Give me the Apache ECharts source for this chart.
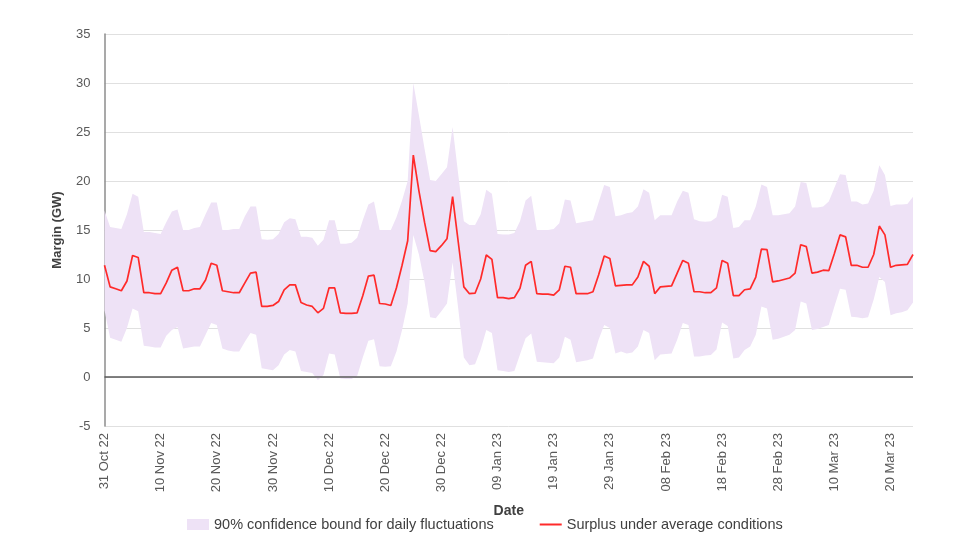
<!DOCTYPE html>
<html>
<head>
<meta charset="utf-8">
<script src="https://cdn.jsdelivr.net/npm/echarts@6/dist/echarts.min.js"></script>
<style>
  html, body { margin: 0; padding: 0; background: #fff; }
  #chart { width: 958px; height: 552px; }
</style>
</head>
<body>
<div id="chart"></div>
<script>
// daily values, 31 Oct 22 .. 24 Mar 23
const startDate = Date.UTC(2022, 9, 31);
const monthNames = ['Jan','Feb','Mar','Apr','May','Jun','Jul','Aug','Sep','Oct','Nov','Dec'];

const surplus = [
  11.4, 9.2, 9.0, 8.8, 9.8, 12.4, 12.2, 8.6, 8.6, 8.5,
  8.5, 9.6, 10.9, 11.2, 8.8, 8.8, 9.0, 9.0, 9.9, 11.6,
  11.4, 8.8, 8.7, 8.6, 8.6, 9.6, 10.6, 10.7, 7.2, 7.2,
  7.3, 7.7, 8.9, 9.4, 9.4, 7.6, 7.35, 7.2, 6.55, 7.0,
  9.1, 9.1, 6.55, 6.5, 6.5, 6.55, 8.3, 10.3, 10.4, 7.5,
  7.45, 7.3, 9.1, 11.4, 13.9, 22.65, 19.0, 15.8, 12.9, 12.8,
  13.4, 14.1, 18.4, 13.8, 9.2, 8.5, 8.55, 10.0, 12.45, 12.0,
  8.1, 8.1, 8.0, 8.1, 9.05, 11.4, 11.8, 8.5, 8.45, 8.45,
  8.35, 8.9, 11.3, 11.2, 8.5, 8.5, 8.5, 8.7, 10.4, 12.35,
  12.1, 9.3, 9.35, 9.4, 9.4, 10.2, 11.8, 11.3, 8.5, 9.2,
  9.25, 9.3, 10.6, 11.9, 11.6, 8.7, 8.7, 8.6, 8.6, 9.1,
  11.9, 11.6, 8.3, 8.3, 8.9, 9.0, 10.2, 13.05, 13.0, 9.7,
  9.8, 9.95, 10.1, 10.6, 13.5, 13.3, 10.6, 10.7, 10.9, 10.85,
  12.6, 14.5, 14.3, 11.4, 11.4, 11.2, 11.2, 12.5, 15.4, 14.5,
  11.2, 11.4, 11.45, 11.5, 12.5
];

const upperBound = [
  17.0, 15.3, 15.2, 15.1, 16.6, 18.7, 18.4, 14.8, 14.8, 14.7,
  14.6, 15.8, 16.9, 17.1, 15.0, 15.0, 15.2, 15.3, 16.6, 17.8,
  17.8, 15.0, 15.0, 15.1, 15.1, 16.4, 17.4, 17.4, 14.05, 14.0,
  14.05, 14.6, 15.8, 16.2, 16.1, 14.3, 14.3, 14.2, 13.4, 14.0,
  16.0, 16.0, 13.6, 13.6, 13.7, 14.2, 16.0, 17.6, 17.9, 15.0,
  15.0, 15.0, 16.3, 18.0, 20.0, 30.0, 26.7, 23.3, 20.1, 20.0,
  20.7, 21.4, 25.5, 20.7, 15.9, 15.5, 15.5, 16.6, 19.1, 18.7,
  14.6, 14.55, 14.55, 14.7, 15.9, 18.0, 18.5, 15.0, 15.0, 15.0,
  15.1, 15.7, 18.1, 18.0, 15.7, 15.8, 15.9, 16.0, 17.8, 19.6,
  19.4, 16.4, 16.5, 16.7, 16.8, 17.4, 19.15, 18.8, 16.0, 16.5,
  16.5, 16.5, 17.9, 19.0, 18.8, 16.1, 15.9, 15.85, 15.9, 16.3,
  18.6, 18.4, 15.2, 15.3, 16.0, 16.0, 17.4, 19.65, 19.4, 16.5,
  16.5, 16.6, 16.7, 17.4, 19.9, 19.8, 17.3, 17.3, 17.4, 17.9,
  19.3, 20.7, 20.6, 17.9, 17.9, 17.6, 17.7, 19.0, 21.6, 20.6,
  17.45, 17.6, 17.6, 17.65, 18.4
];

const lowerBound = [
  6.8, 4.0, 3.8, 3.6, 5.0, 7.0, 6.7, 3.2, 3.1, 3.0,
  3.0, 4.2, 4.8, 5.1, 2.9, 3.0, 3.1, 3.1, 4.3, 5.5,
  5.3, 2.9, 2.7, 2.6, 2.6, 3.6, 4.5, 4.3, 0.9, 0.8,
  0.7, 1.2, 2.3, 2.75, 2.6, 0.6, 0.5, 0.4, -0.3, 0.2,
  2.4, 2.3, -0.15, -0.2, -0.2, 0.1, 2.0, 3.7, 3.85, 1.1,
  1.05, 1.1, 2.6, 4.8, 7.5, 14.5, 12.5, 9.7, 6.1, 6.0,
  6.7, 7.5, 11.7, 7.0, 2.0, 1.2, 1.3, 2.8, 4.8, 4.5,
  0.7, 0.6, 0.5, 0.6, 2.3, 3.95, 4.45, 1.55, 1.5, 1.45,
  1.4, 2.0, 4.1, 3.8, 1.5, 1.6, 1.7, 1.9, 3.8, 5.3,
  5.0, 2.4, 2.6, 2.4, 2.5, 3.1, 4.8, 4.5, 1.7, 2.3,
  2.35, 2.4, 3.8, 5.5, 5.3, 2.1, 2.1, 2.2, 2.25, 2.8,
  5.55, 5.2, 1.9, 2.0, 2.75, 3.1, 4.3, 7.2, 7.0, 3.8,
  3.9, 4.1, 4.3, 4.8, 7.7, 7.5, 4.8, 4.9, 5.1, 5.3,
  7.2, 9.0, 8.9, 6.15, 6.1, 6.0, 6.1, 7.9, 10.2, 9.7,
  6.3, 6.5, 6.6, 6.8, 7.6
];

const bandName = '90% confidence bound for daily fluctuations';
const lineName = 'Surplus under average conditions';

// category labels like "31 Oct 22"
const dates = surplus.map((v, i) => {
  const d = new Date(startDate + i * 86400000);
  const dd = String(d.getUTCDate()).padStart(2, '0');
  return dd + ' ' + monthNames[d.getUTCMonth()] + ' ' + String(d.getUTCFullYear()).slice(2);
});

const bandWidth = upperBound.map((u, i) => +(u - lowerBound[i]).toFixed(2));

const bandColor = '#EEE2F6';
const redColor = '#ff2a2a';
const font = 'Liberation Sans, Arial, sans-serif';

const chart = echarts.init(document.getElementById('chart'));
chart.setOption({
  animation: false,
  grid: { left: 104.5, right: 45, top: 34, bottom: 126 },
  legend: {
    bottom: 15,
    left: 182,
    itemGap: 46,
    itemWidth: 22,
    itemHeight: 11,
    textStyle: { fontFamily: font, fontSize: 14.5, color: '#404040' },
    data: [
      { name: bandName, icon: 'rect', itemStyle: { color: bandColor } },
      { name: lineName, icon: 'path://M0,0H22V2H0Z', itemStyle: { color: redColor } }
    ]
  },
  xAxis: {
    type: 'category',
    data: dates,
    boundaryGap: false,
    name: 'Date',
    nameLocation: 'middle',
    nameGap: 78,
    nameTextStyle: { fontFamily: font, fontSize: 14, fontWeight: 'bold', color: '#404040' },
    axisLine: { show: false, onZero: false },
    axisTick: { show: false },
    axisLabel: {
      interval: 9,
      rotate: 90,
      margin: 7,
      fontFamily: font,
      fontSize: 13,
      color: '#595959'
    },
    splitLine: { show: false }
  },
  yAxis: {
    type: 'value',
    min: -5,
    max: 35,
    interval: 5,
    name: 'Margin (GW)',
    nameLocation: 'middle',
    nameGap: 41,
    nameTextStyle: { fontFamily: font, fontSize: 13, fontWeight: 'bold', color: '#404040' },
    axisLine: { show: true, lineStyle: { color: '#8c8c8c', width: 1.5 } },
    axisTick: { show: false },
    axisLabel: { fontFamily: font, fontSize: 13, color: '#595959', margin: 14 },
    splitLine: { lineStyle: { color: '#e0e0e0', width: 1 } }
  },
  series: [
    {
      name: 'lower',
      type: 'line',
      data: lowerBound,
      stack: 'band',
      stackStrategy: 'all',
      symbol: 'none',
      lineStyle: { opacity: 0 },
      silent: true,
      z: 1
    },
    {
      name: bandName,
      type: 'line',
      data: bandWidth,
      stack: 'band',
      stackStrategy: 'all',
      symbol: 'none',
      lineStyle: { opacity: 0 },
      itemStyle: { color: bandColor },
      areaStyle: { color: bandColor, opacity: 1 },
      silent: true,
      z: 1
    },
    {
      name: lineName,
      type: 'line',
      data: surplus,
      symbol: 'none',
      itemStyle: { color: redColor },
      lineStyle: { color: redColor, width: 1.7 },
      z: 3,
      markLine: {
        silent: true,
        symbol: ['none', 'none'],
        label: { show: false },
        lineStyle: { color: '#595959', width: 1.5, type: 'solid' },
        data: [{ yAxis: 0 }]
      }
    }
  ]
});
</script>
</body>
</html>
